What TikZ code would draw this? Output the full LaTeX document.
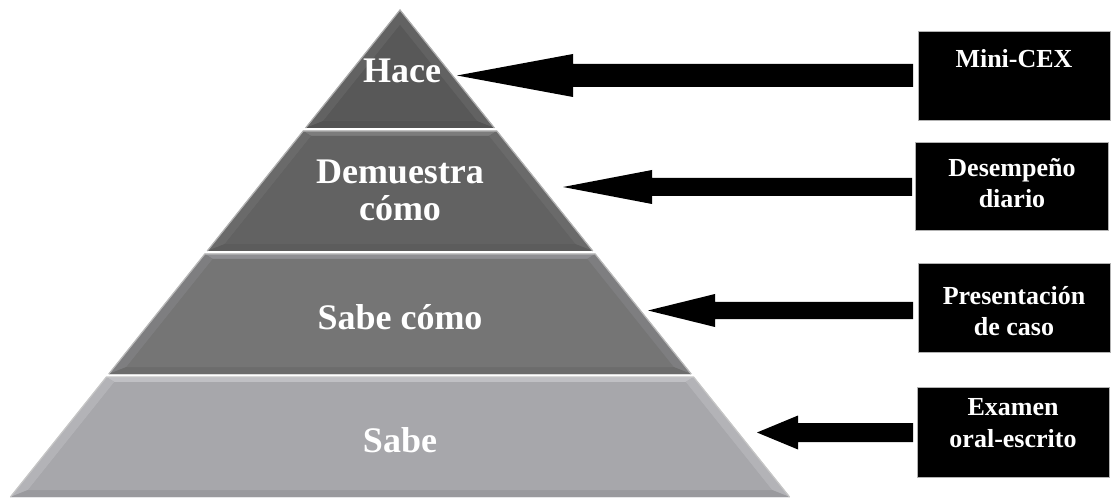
\documentclass[tikz,border=0pt]{standalone}
\usepackage{fontspec}
\setmainfont{Liberation Serif}
\usetikzlibrary{calc}
\definecolor{lone}{HTML}{585858}
\definecolor{lonetop}{HTML}{5E5E5E}
\definecolor{loneside}{HTML}{626262}
\definecolor{lonebot}{HTML}{525252}
\definecolor{ltwo}{HTML}{626262}
\definecolor{ltwotop}{HTML}{7C7C7C}
\definecolor{ltwoside}{HTML}{6A6A6A}
\definecolor{ltwobot}{HTML}{5C5C5C}
\definecolor{lthree}{HTML}{757575}
\definecolor{lthreetop}{HTML}{8E8E92}
\definecolor{lthreeside}{HTML}{7E7E80}
\definecolor{lthreebot}{HTML}{6C6C6C}
\definecolor{lfour}{HTML}{A7A7AB}
\definecolor{lfourtop}{HTML}{C0C0C4}
\definecolor{lfourside}{HTML}{B3B3B7}
\definecolor{lfourbot}{HTML}{9A9A9E}
\newcommand\pyrlayer[7]{%
  \pgfmathsetmacro\xTL{400-0.8*(#1-10)}%
  \pgfmathsetmacro\xTR{400+0.8*(#1-10)}%
  \pgfmathsetmacro\xBL{400-0.8*(#2-10)}%
  \pgfmathsetmacro\xBR{400+0.8*(#2-10)}%
  \pgfmathsetmacro\yiT{max(#1+5,25)}%
  \pgfmathsetmacro\yiB{#2-7}%
  \pgfmathsetmacro\xiTL{400-0.8*(\yiT-10)+12}%
  \pgfmathsetmacro\xiTR{400+0.8*(\yiT-10)-12}%
  \pgfmathsetmacro\xiBL{400-0.8*(\yiB-10)+12}%
  \pgfmathsetmacro\xiBR{400+0.8*(\yiB-10)-12}%
  \fill[#3] (\xTL,#1) -- (\xTR,#1) -- (\xBR,#2) -- (\xBL,#2) -- cycle;
  \fill[#4] (\xTL,#1) -- (\xTR,#1) -- (\xiTR,\yiT) -- (\xiTL,\yiT) -- cycle;
  \fill[#5] (\xTL,#1) -- (\xiTL,\yiT) -- (\xiBL,\yiB) -- (\xBL,#2) -- cycle;
  \fill[#5] (\xTR,#1) -- (\xiTR,\yiT) -- (\xiBR,\yiB) -- (\xBR,#2) -- cycle;
  \fill[#6] (\xBL,#2) -- (\xBR,#2) -- (\xiBR,\yiB) -- (\xiBL,\yiB) -- cycle;
  \fill[#3] (\xiTL,\yiT) -- (\xiTR,\yiT) -- (\xiBR,\yiB) -- (\xiBL,\yiB) -- cycle;
  \draw[#7, line width=1.2pt] (\xBL,#2) -- (\xTL,#1) -- (\xTR,#1) -- (\xBR,#2);
}
% block arrow: #1 tail coordinate, #2 tip coordinate, #3 shaft half height, #4 head half height, #5 head length
\newcommand\blockarrow[5]{%
  \fill[black] ($(#1)+(0,-#3)$) -- ($(#2)+(#5,-#3)$) -- ($(#2)+(#5,-#4)$) -- (#2)
    -- ($(#2)+(#5,#4)$) -- ($(#2)+(#5,#3)$) -- ($(#1)+(0,#3)$) -- cycle;
}
\begin{document}
\begin{tikzpicture}[x=1pt,y=-1pt,
  pyrtext/.style={text=white, font=\fontsize{36}{40}\selectfont\bfseries, inner sep=0pt, anchor=base},
  boxtext/.style={text=white, font=\fontsize{26}{30}\selectfont\bfseries, inner sep=0pt, anchor=base},
  blackbox/.style={draw=gray!60, line width=0.8pt, fill=black, inner sep=0pt}]
\useasboundingbox (0,0) rectangle (1118,502);
\fill[white] (0,0) rectangle (1118,502);

% pyramid layers
\pyrlayer{377}{497}{lfour}{lfourtop}{lfourside}{lfourbot}{gray!45}
\pyrlayer{254}{374}{lthree}{lthreetop}{lthreeside}{lthreebot}{gray!55}
\pyrlayer{131}{251}{ltwo}{ltwotop}{ltwoside}{ltwobot}{gray!60}
\pyrlayer{10}{128}{lone}{lonetop}{loneside}{lonebot}{gray!65}

% pyramid texts
\node[pyrtext] (hace) at (402,83) {Hace};
\node[pyrtext] (dem1) at (400,184) {Demuestra};
\node[pyrtext] (dem2) at (400,221) {cómo};
\node[pyrtext] (sabecomo) at (400,330) {Sabe cómo};
\node[pyrtext] (sabe) at (400,452) {Sabe};

% boxes
\node[blackbox, minimum width=192pt, minimum height=89pt] (b1) at (1014,75.5) {};
\node[blackbox, minimum width=193pt, minimum height=88pt] (b2) at (1011.5,186) {};
\node[blackbox, minimum width=192pt, minimum height=89pt] (b3) at (1014,307.5) {};
\node[blackbox, minimum width=192pt, minimum height=90pt] (b4) at (1013,432) {};

\node[boxtext] (t1) at (1014,68) {Mini-CEX};
\node[boxtext] (t2a) at (1012,177) {Desempeño};
\node[boxtext] (t2b) at (1012,208) {diario};
\node[boxtext] (t3a) at (1014,305) {Presentación};
\node[boxtext] (t3b) at (1014,335) {de caso};
\node[boxtext] (t4a) at (1013,415) {Examen};
\node[boxtext] (t4b) at (1013,447) {oral-escrito};

% arrow coordinates
\coordinate (a1s) at (913,75.5);
\coordinate (a1t) at (457,75.5);
\coordinate (a2s) at (912,187);
\coordinate (a2t) at (563,187);
\coordinate (a3s) at (913,310.5);
\coordinate (a3t) at (648,310.5);
\coordinate (a4s) at (913,432.5);
\coordinate (a4t) at (757,432.5);

\blockarrow{a1s}{a1t}{11.5}{21.5}{116}
\blockarrow{a2s}{a2t}{9}{17}{89}
\blockarrow{a3s}{a3t}{8.5}{16.5}{67}
\blockarrow{a4s}{a4t}{9.5}{17}{41}
\end{tikzpicture}
\end{document}
